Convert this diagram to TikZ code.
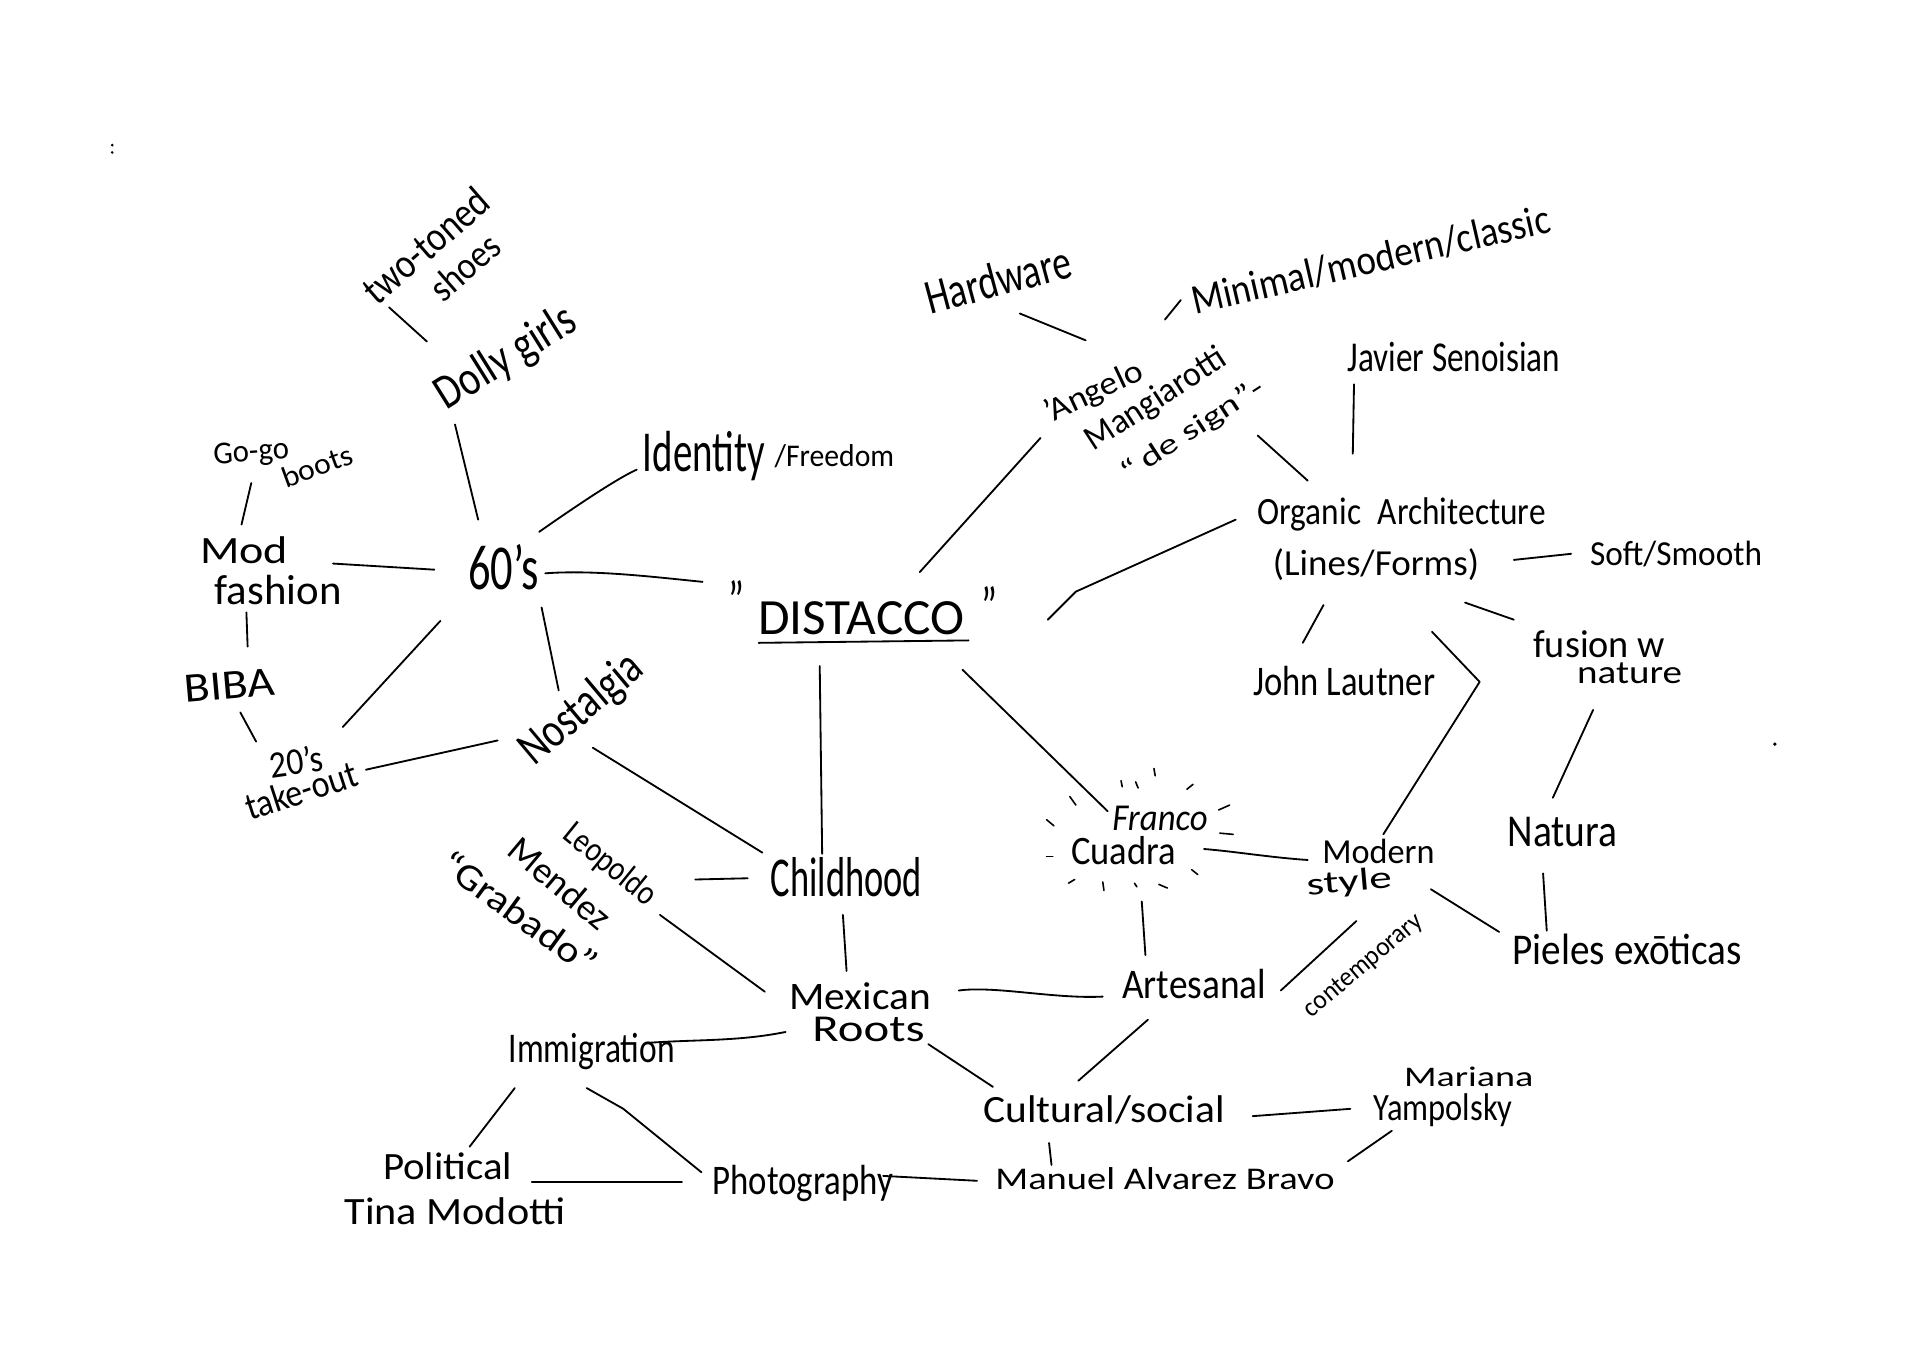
\documentclass[tikz,border=0pt]{standalone}
\usepackage{fontspec}
\setmainfont{Carlito}
\usepackage{graphicx}
\newcommand\hw[3]{\resizebox{#1pt}{#2pt}{#3}}
\begin{document}
\begin{tikzpicture}[x=1pt,y=-1pt, line width=1.5pt, line cap=round, line join=round,
  lbl/.style={inner sep=0pt, outer sep=0pt, text=black},
  ray/.style={line width=1.3pt}]
\useasboundingbox[fill=white] (0,0) rectangle (1574,1113);

% ---- nodes ----
\node[lbl,rotate=41] (twotoned) at (349,201) {\hw{125}{24}{two-toned}};
\node[lbl,rotate=41] (shoes) at (381,219) {\hw{66}{22}{shoes}};
\node[lbl,rotate=32] (dolly) at (415,294) {\hw{128}{28}{Dolly girls}};
\node[lbl,rotate=4] (gogo) at (206,372) {\hw{62}{17}{Go-go}};
\node[lbl,rotate=20] (boots) at (260,382) {\hw{60}{17}{boots}};
\node[lbl] (mod) at (200,451) {\hw{72}{22}{Mod}};
\node[lbl] (fashion) at (228,484) {\hw{104}{24}{fashion}};
\node[lbl,rotate=5] (biba) at (188,562) {\hw{74}{22}{BIBA}};
\node[lbl,rotate=8] (twenties) at (243,624) {\hw{44}{22}{20's}};
\node[lbl,rotate=18] (takeout) at (247,648) {\hw{95}{22}{take-out}};
\node[lbl] (sixties) at (413,465) {\hw{58}{37}{60's}};
\node[lbl] (identity) at (577,374) {\hw{100}{33}{Identity}};
\node[lbl] (freedom) at (684,374) {\hw{98}{18}{/Freedom}};
\node[lbl,rotate=40] (nostalgia) at (477,582) {\hw{120}{28}{Nostalgia}};
\node[lbl] (distacco) at (706,507) {\hw{169}{27}{DISTACCO}};
\node[lbl] (q1) at (604,492) {\hw{13}{32}{"}};
\node[lbl] (q2) at (811,497) {\hw{13}{32}{"}};
\node[lbl,rotate=15] (hardware) at (818,229) {\hw{122}{28}{Hardware}};
\node[lbl,rotate=13] (minimal) at (1124,213) {\hw{300}{24}{Minimal/modern/classic}};
\node[lbl,rotate=25] (angelo) at (897,322) {\hw{86}{19}{'Angelo}};
\node[lbl,rotate=33] (mangiarotti) at (948,328) {\hw{132}{20}{Mangiarotti}};
\node[lbl,rotate=33] (design) at (978,353) {\hw{135}{17}{``\,de sign''-}};
\node[lbl] (javier) at (1192,293) {\hw{174}{24}{Javier Senoisian}};
\node[lbl] (organic) at (1149,422) {\hw{236}{22}{Organic\enspace Architecture}};
\node[lbl] (lines) at (1128,463) {\hw{169}{22}{(Lines/Forms)}};
\node[lbl] (soft) at (1374,454) {\hw{141}{20}{Soft/Smooth}};
\node[lbl] (john) at (1102,558) {\hw{149}{24}{John Lautner}};
\node[lbl] (fusion) at (1311,528) {\hw{108}{22}{fusion w}};
\node[lbl] (nature) at (1336,552) {\hw{86}{17}{nature}};
\node[lbl] (natura) at (1281,682) {\hw{90}{24}{Natura}};
\node[lbl] (pieles) at (1334,778) {\hw{188}{25}{Pieles exōticas}};
\node[lbl] (modern) at (1130,698) {\hw{92}{20}{Modern}};
\node[lbl,rotate=5] (style) at (1106,724) {\hw{70}{18}{style}};
\node[lbl,rotate=40] (contemporary) at (1118,792) {\hw{120}{14}{contemporary}};
\node[lbl] (franco) at (951,671) {\hw{78}{20}{\itshape Franco}};
\node[lbl] (cuadra) at (921,697) {\hw{86}{23}{Cuadra}};
\node[lbl] (artesanal) at (979,807) {\hw{118}{24}{Artesanal}};
\node[lbl] (mexican) at (705,817) {\hw{116}{22}{Mexican}};
\node[lbl] (roots) at (712,844) {\hw{92}{20}{Roots}};
\node[lbl] (childhood) at (694,719) {\hw{124}{32}{Childhood}};
\node[lbl,rotate=-39] (leopoldo) at (500,709) {\hw{90}{20}{Leopoldo}};
\node[lbl,rotate=-40] (mendez) at (459,724) {\hw{100}{21}{Mendez}};
\node[lbl,rotate=-36] (grabado) at (426,748) {\hw{150}{22}{``Grabado''}};
\node[lbl] (immigration) at (485,862) {\hw{136}{24}{Immigration}};
\node[lbl] (cultural) at (905,910) {\hw{198}{22}{Cultural/social}};
\node[lbl] (mariana) at (1204,883) {\hw{106}{16}{Mariana}};
\node[lbl] (yampolsky) at (1183,910) {\hw{114}{22}{Yampolsky}};
\node[lbl] (manuel) at (955,966) {\hw{278}{18}{Manuel Alvarez Bravo}};
\node[lbl] (photography) at (658,970) {\hw{148}{24}{Photography}};
\node[lbl] (political) at (367,956) {\hw{106}{22}{Political}};
\node[lbl] (tina) at (373,993) {\hw{181}{22}{Tina Modotti}};

% ---- connectors ----
\draw ([shift={(-30,51)}]twotoned.center) -- ([shift={(-65,-14)}]dolly.center);
\draw ([shift={(-42,54)}]dolly.center) -- ([shift={(-21,-39)}]sixties.center);
\draw ([shift={(0,24)}]gogo.center) -- ([shift={(-2,-21)}]mod.center);
\draw ([shift={(73,11)}]mod.center) -- ([shift={(-57,2)}]sixties.center);
\draw ([shift={(-26,18)}]fashion.center) -- ([shift={(15,-32)}]biba.center);
\draw ([shift={(9,22)}]biba.center) -- ([shift={(-33,-16)}]twenties.center);
\draw ([shift={(-52,44)}]sixties.center) -- ([shift={(38,-28)}]twenties.center);
\draw ([shift={(53,-17)}]takeout.center) -- ([shift={(-69,25)}]nostalgia.center);
\draw ([shift={(31,33)}]sixties.center) -- ([shift={(-19,-16)}]nostalgia.center);
\draw ([shift={(29,-29)}]sixties.center) .. controls +(20,-14) and +(-18,8) .. ([shift={(-55,11)}]identity.center);
\draw ([shift={(34,5)}]sixties.center) .. controls +(40,-3) and +(-40,-4) .. ([shift={(-130,-30)}]distacco.center);
\draw ([shift={(-84,20)}]distacco.center) -- ([shift={(88,18)}]distacco.center);
\draw ([shift={(9,31)}]nostalgia.center) -- ([shift={(-69,-20)}]childhood.center);
\draw ([shift={(-34,39)}]distacco.center) -- ([shift={(-20,-19)}]childhood.center);
\draw ([shift={(48,-38)}]distacco.center) -- ([shift={(-44,37)}]angelo.center);
\draw ([shift={(153,1)}]distacco.center) -- ([shift={(176,-22)}]distacco.center) -- ([shift={(-136,4)}]organic.center);
\draw ([shift={(83,42)}]distacco.center) -- ([shift={(-43,-6)}]franco.center);
\draw ([shift={(18,28)}]hardware.center) -- ([shift={(-7,-43)}]angelo.center);
\draw ([shift={(7,-66)}]mangiarotti.center) -- ([shift={(-156,33)}]minimal.center);
\draw ([shift={(53,4)}]design.center) -- ([shift={(-77,-28)}]organic.center);
\draw ([shift={(-82,22)}]javier.center) -- ([shift={(-40,-50)}]organic.center);
\draw ([shift={(113,-4)}]lines.center) -- ([shift={(-86,0)}]soft.center);
\draw ([shift={(-43,33)}]lines.center) -- ([shift={(-34,-31)}]john.center);
\draw ([shift={(46,55)}]lines.center) -- ([shift={(85,96)}]lines.center) -- ([shift={(4,-14)}]modern.center);
\draw ([shift={(73,31)}]lines.center) -- ([shift={(-70,-20)}]fusion.center);
\draw ([shift={(-30,30)}]nature.center) -- ([shift={(-8,-28)}]natura.center);
\draw ([shift={(-16,34)}]natura.center) -- ([shift={(-66,-15)}]pieles.center);
\draw ([shift={(67,5)}]style.center) -- ([shift={(-105,-14)}]pieles.center);
\draw ([shift={(66,-1)}]cuadra.center) .. controls +(25,2) and +(-30,-2) .. ([shift={(-58,7)}]modern.center);
\draw ([shift={(15,42)}]cuadra.center) -- ([shift={(-40,-24)}]artesanal.center);
\draw ([shift={(71,5)}]artesanal.center) -- ([shift={(6,31)}]style.center);
\draw ([shift={(81,-5)}]mexican.center) .. controls +(30,-4) and +(-40,2) .. ([shift={(-75,10)}]artesanal.center);
\draw ([shift={(-3,31)}]childhood.center) -- ([shift={(-11,-21)}]mexican.center);
\draw ([shift={(70,12)}]leopoldo.center) -- ([shift={(-81,1)}]childhood.center);
\draw ([shift={(41,41)}]leopoldo.center) -- ([shift={(-78,-4)}]mexican.center);
\draw ([shift={(45,-7)}]immigration.center) .. controls +(40,-3) and +(-40,8) .. ([shift={(-61,29)}]mexican.center);
\draw ([shift={(49,12)}]roots.center) -- ([shift={(-91,-19)}]cultural.center);
\draw ([shift={(-38,29)}]artesanal.center) -- ([shift={(-21,-24)}]cultural.center);
\draw ([shift={(122,5)}]cultural.center) -- ([shift={(-76,-1)}]yampolsky.center);
\draw ([shift={(-42,17)}]yampolsky.center) -- ([shift={(150,-14)}]manuel.center);
\draw ([shift={(-45,27)}]cultural.center) -- ([shift={(-93,-11)}]manuel.center);
\draw ([shift={(66,-6)}]photography.center) -- ([shift={(-154,2)}]manuel.center);
\draw ([shift={(-4,30)}]immigration.center) -- ([shift={(26,47)}]immigration.center) -- ([shift={(-83,-9)}]photography.center);
\draw ([shift={(-63,30)}]immigration.center) -- ([shift={(18,-16)}]political.center);
\draw ([shift={(69,13)}]political.center) -- ([shift={(-99,-1)}]photography.center);

% ---- rays around Franco Cuadra ----
\foreach \a/\b/\c/\d in {-2/-57/-1/-52, 10/-56/12/-51, 25/-67/26/-61, 52/-50/57/-54,
  78/-33/87/-37, 79/-14/90/-13, 56/16/61/20, 29/28/36/31, 9/27/11/30, -17/26/-16/33,
  -45/27/-40/24, -63/5/-58/5, -63/-25/-57/-20, -44/-44/-39/-37}
  \draw[ray] ([shift={(\a,\b)}]cuadra.center) -- ([shift={(\c,\d)}]cuadra.center);

% ---- specks ----
\fill (92,119) circle (1.2);
\fill (92,125) circle (1.2);
\fill (1455,610) circle (1.5);
\end{tikzpicture}
\end{document}
